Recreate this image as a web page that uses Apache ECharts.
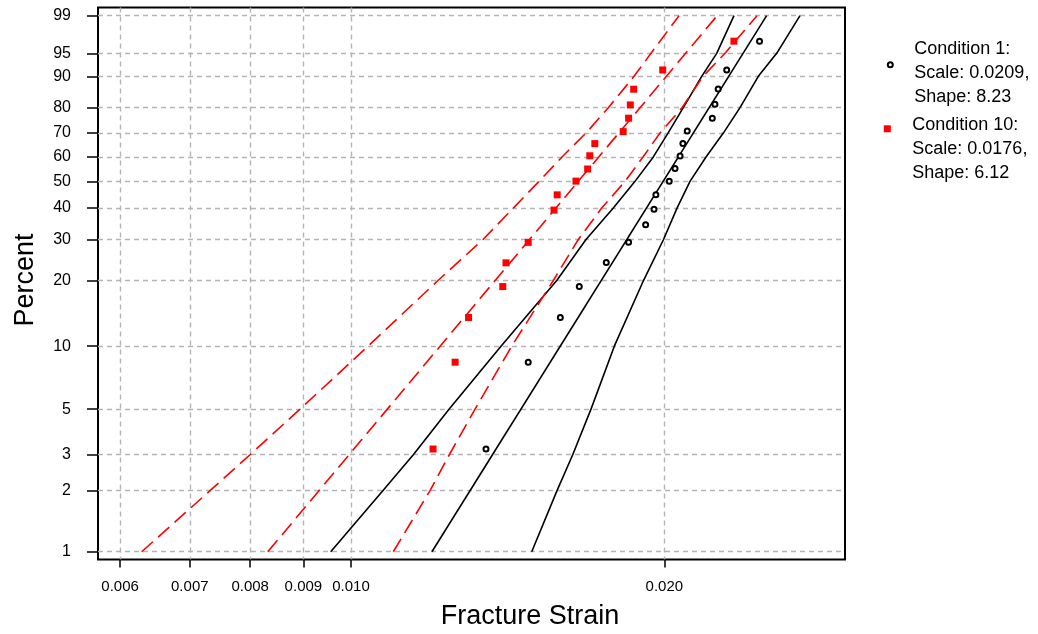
<!DOCTYPE html>
<html><head><meta charset="utf-8">
<script src="https://cdn.jsdelivr.net/npm/echarts@6/dist/echarts.min.js"></script>
<style>html,body{margin:0;padding:0;background:#fff}#c{width:1038px;height:634px}</style>
</head><body><div id="c"></div>
<script>
// ---- axis ticks ----
const pctTicks = [1, 2, 3, 5, 10, 20, 30, 40, 50, 60, 70, 80, 90, 95, 99];
const pctTickLabels = ['1', '2', '3', '5', '10', '20', '30', '40', '50', '60', '70', '80', '90', '95', '99'];
const strainTicks = [0.006, 0.007, 0.008, 0.009, 0.010, 0.020];
const strainTickLabels = ['0.006', '0.007', '0.008', '0.009', '0.010', '0.020'];
const strainRange = [0.0057135, 0.029829];
const pctRange = [0.9156, 99.364];

// ---- Condition 1 ----
const cond1Name = 'Condition 1';
const cond1Scale = '0.0209';
const cond1Shape = '8.23';
const cond1Strain = [0.01348, 0.01480, 0.01589, 0.01657, 0.01759, 0.01848, 0.01919, 0.01955, 0.01963, 0.02022,
  0.02048, 0.02071, 0.02084, 0.02104, 0.02224, 0.02237, 0.02253, 0.02296, 0.02469];
const cond1Pct = [3.2, 8.4, 13.6, 18.8, 24.0, 29.2, 34.4, 39.6, 44.8, 50.0,
  55.2, 60.4, 65.6, 70.8, 76.0, 81.2, 86.4, 91.6, 96.8];
const cond1FitStrain = [0.01196, 0.02508];
const cond1FitPct = [1, 99];
const boundPct = [1, 2, 3, 5, 10, 20, 30, 40, 50, 60, 70, 80, 90, 95, 99];
const cond1LowerStrain = [0.009561, 0.010729, 0.011478, 0.012421, 0.013935, 0.015764, 0.016819, 0.017866,
  0.018745, 0.019519, 0.020164, 0.020858, 0.021725, 0.022458, 0.023334];
const cond1UpperStrain = [0.014915, 0.015774, 0.016331, 0.017006, 0.017906, 0.019100, 0.019965, 0.020570,
  0.021170, 0.021933, 0.022789, 0.023646, 0.024623, 0.025646, 0.027002];

// ---- Condition 10 ----
const cond10Name = 'Condition 10';
const cond10Scale = '0.0176';
const cond10Shape = '6.12';
const cond10Strain = [0.01199, 0.01259, 0.01297, 0.01399, 0.01409, 0.01480, 0.01567, 0.01578, 0.01645,
  0.01688, 0.01696, 0.01715, 0.01826, 0.01848, 0.01855, 0.01869, 0.01993, 0.02333];
const cond10Pct = [3.2, 8.4, 13.6, 18.8, 23.9, 29.2, 39.3, 44.8, 50.1,
  55.0, 60.5, 65.6, 70.6, 76.0, 81.0, 86.3, 91.6, 96.8];
const cond10FitStrain = [0.008318, 0.02248];
const cond10FitPct = [1, 99];
const cond10LowerStrain = [0.0062935, 0.0073203, 0.0079977, 0.008933, 0.010383, 0.012122, 0.013392, 0.014320,
  0.015158, 0.015949, 0.016819, 0.017670, 0.018704, 0.019420, 0.020661];
const cond10UpperStrain = [0.010981, 0.011910, 0.012429, 0.013157, 0.014269, 0.015645, 0.016535, 0.017413,
  0.018335, 0.019079, 0.019810, 0.020799, 0.021788, 0.022874, 0.024552];

// ---- scale transforms (log strain, Weibull probability) ----
const tx = v => Math.log10(v);
const ty = p => Math.log(-Math.log(1 - p / 100));
const pairs = (xs, ps) => xs.map((x, i) => [tx(x), ty(ps[i])]);
const findLabel = (vals, labels, v, f) => {
  for (let i = 0; i < vals.length; i++) if (Math.abs(f(vals[i]) - v) < 1e-7) return labels[i];
  return '';
};

const FONT = "'Liberation Sans', Arial, Helvetica, sans-serif";
const gridLine = { show: true, lineStyle: { color: '#b4b4b4', width: 1.4, type: [5, 4] } };

const chart = echarts.init(document.getElementById('c'), null, { renderer: 'canvas' });
const solid = { color: '#000', width: 1.6, type: 'solid' };
const dashed = { color: '#ff0000', width: 1.6, type: [15, 7] };
const lineSeries = (name, data, ls) => ({
  name, type: 'line', data, symbol: 'none', showSymbol: false, lineStyle: ls,
  silent: true, z: 3, animation: false
});

chart.setOption({
  animation: false,
  backgroundColor: '#fff',
  grid: {
    left: 98, right: 193, top: 7.5, bottom: 74.5, show: true,
    borderColor: '#000', borderWidth: 2, backgroundColor: 'transparent',
    containLabel: false, outerBoundsMode: 'none'
  },
  xAxis: {
    type: 'value', min: tx(strainRange[0]), max: tx(strainRange[1]),
    name: 'Fracture Strain', nameLocation: 'middle', nameGap: 44,
    nameTextStyle: { fontSize: 27, color: '#000', fontFamily: FONT, padding: [0, 0, 0, 117] },
    axisLine: { show: false, onZero: false },
    axisTick: { show: true, customValues: strainTicks.map(tx), length: 8, inside: false,
      lineStyle: { color: '#000', width: 1.5 } },
    axisLabel: { show: true, customValues: strainTicks.map(tx), margin: 20, fontSize: 15, color: '#000', fontFamily: FONT,
      formatter: v => findLabel(strainTicks, strainTickLabels, v, tx) },
    splitLine: gridLine
  },
  yAxis: {
    type: 'value', min: ty(pctRange[0]), max: ty(pctRange[1]),
    name: 'Percent', nameLocation: 'middle', nameGap: 59,
    nameTextStyle: { fontSize: 27, color: '#000', fontFamily: FONT, padding: [0, 0, 0, 7] },
    axisLine: { show: false, onZero: false },
    axisTick: { show: true, customValues: pctTicks.map(ty), length: 11, inside: false,
      lineStyle: { color: '#000', width: 1.5 } },
    axisLabel: { show: true, customValues: pctTicks.map(ty), margin: 27, fontSize: 16, color: '#000', fontFamily: FONT,
      formatter: v => findLabel(pctTicks, pctTickLabels, v, ty) },
    splitLine: gridLine
  },
  legend: [
    {
      data: [cond1Name], left: 886.8, top: 28.3, padding: 0, orient: 'vertical',
      itemWidth: 5, itemHeight: 5, selectedMode: false,
      formatter: () => '{s| }\n{t|' + cond1Name + ':}\n{t|Scale: ' + cond1Scale + ',}\n{t|Shape: ' + cond1Shape + '}',
      textStyle: { rich: {
        s: { fontSize: 1, lineHeight: 16 },
        t: { fontSize: 18, lineHeight: 24, padding: [0, 0, 0, 16.5], color: '#000', fontFamily: FONT }
      } }
    },
    {
      data: [cond10Name], left: 883.8, top: 92.3, padding: 0, orient: 'vertical',
      itemWidth: 7, itemHeight: 7, selectedMode: false,
      formatter: () => '{s| }\n{t|' + cond10Name + ':}\n{t|Scale: ' + cond10Scale + ',}\n{t|Shape: ' + cond10Shape + '}',
      textStyle: { rich: {
        s: { fontSize: 1, lineHeight: 41.4 },
        t: { fontSize: 18, lineHeight: 24, padding: [0, 0, 0, 16.5], color: '#000', fontFamily: FONT }
      } }
    }
  ],
  series: [
    lineSeries('c1 lower', pairs(cond1LowerStrain, boundPct), solid),
    lineSeries('c1 fit', pairs(cond1FitStrain, cond1FitPct), solid),
    lineSeries('c1 upper', pairs(cond1UpperStrain, boundPct), solid),
    lineSeries('c10 lower', pairs(cond10LowerStrain, boundPct), dashed),
    lineSeries('c10 fit', pairs(cond10FitStrain, cond10FitPct), dashed),
    lineSeries('c10 upper', pairs(cond10UpperStrain, boundPct), dashed),
    {
      name: cond1Name, type: 'scatter', data: pairs(cond1Strain, cond1Pct),
      symbol: 'emptyCircle', symbolSize: 5, z: 5,
      itemStyle: { color: '#000', borderColor: '#000', borderWidth: 0.9, opacity: 1 }
    },
    {
      name: cond10Name, type: 'scatter', data: pairs(cond10Strain, cond10Pct),
      symbol: 'rect', symbolSize: 7, z: 6,
      itemStyle: { color: '#ff0000', opacity: 1 }
    }
  ]
});
</script></body></html>
